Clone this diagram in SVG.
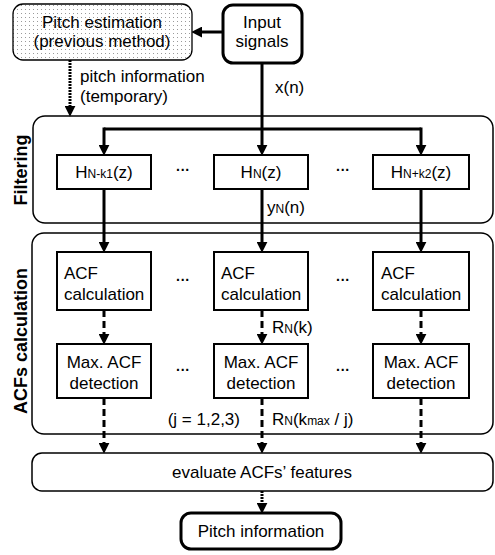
<svg xmlns="http://www.w3.org/2000/svg" width="495" height="555" viewBox="0 0 495 555">
<defs>
<pattern id="stip" width="4" height="4" patternUnits="userSpaceOnUse">
<rect width="4" height="4" fill="#fff"/>
<rect x="1" y="1" width="1" height="1" fill="#9a9a9a"/>
</pattern>
<marker id="ah" markerUnits="userSpaceOnUse" markerWidth="11" markerHeight="11" refX="2" refY="5" orient="auto" viewBox="0 0 10 10">
<path d="M0,0 L10,5 L0,10 z" fill="#000"/>
</marker>
<style>
text{font-family:"Liberation Sans",Arial,sans-serif;font-size:17px;fill:#000}
.c{text-anchor:middle}
.s{font-size:12px}
.lab{font-weight:bold;font-size:18px;text-anchor:middle}
.grp{fill:#fff;stroke:#000;stroke-width:1.5}
.box{fill:#fff;stroke:#000;stroke-width:2}
.tb{fill:#fff;stroke:#000;stroke-width:3}
.solid{stroke:#000;stroke-width:3;fill:none}
.dash{stroke:#000;stroke-width:3;fill:none;stroke-dasharray:7 4}
.dot{stroke:#000;stroke-width:3;fill:none;stroke-dasharray:2 1}
.dots{font-size:14px;text-anchor:middle;font-weight:bold}
</style>
</defs>

<g id="filtering-group">
<rect class="grp" x="33" y="116" width="460" height="107" rx="12"/>
<text class="lab" transform="translate(27,170) rotate(-90)">Filtering</text>
</g>
<g id="acfs-group">
<rect class="grp" x="32" y="233" width="461" height="201" rx="12"/>
<text class="lab" transform="translate(27,341) rotate(-90)">ACFs calculation</text>
</g>

<g id="connectors">
<line class="solid" x1="223" y1="32" x2="200" y2="32" marker-end="url(#ah)"/>
<line class="dot" x1="70" y1="60" x2="70" y2="108" marker-end="url(#ah)"/>
<line class="solid" x1="262" y1="63" x2="262" y2="147" marker-end="url(#ah)"/>
<line class="solid" x1="104" y1="129" x2="421" y2="129"/>
<line class="solid" x1="104" y1="127.5" x2="104" y2="147" marker-end="url(#ah)"/>
<line class="solid" x1="421" y1="127.5" x2="421" y2="147" marker-end="url(#ah)"/>
<line class="solid" x1="104" y1="189" x2="104" y2="244" marker-end="url(#ah)"/>
<line class="solid" x1="262" y1="189" x2="262" y2="244" marker-end="url(#ah)"/>
<line class="solid" x1="421" y1="189" x2="421" y2="244" marker-end="url(#ah)"/>
<line class="dash" x1="104" y1="310" x2="104" y2="336" marker-end="url(#ah)"/>
<line class="dash" x1="262" y1="310" x2="262" y2="336" marker-end="url(#ah)"/>
<line class="dash" x1="421" y1="310" x2="421" y2="336" marker-end="url(#ah)"/>
<line class="dash" x1="104" y1="398" x2="104" y2="445" marker-end="url(#ah)"/>
<line class="dash" x1="262" y1="398" x2="262" y2="445" marker-end="url(#ah)"/>
<line class="dash" x1="421" y1="398" x2="421" y2="445" marker-end="url(#ah)"/>
<line class="dot" x1="262" y1="491" x2="262" y2="505" marker-end="url(#ah)"/>
<text x="80" y="82">pitch information</text>
<text x="80" y="102">(temporary)</text>
<text x="275" y="93">x(n)</text>
<text x="267" y="213">y<tspan class="s">N</tspan>(n)</text>
<text x="272" y="333">R<tspan class="s">N</tspan>(k)</text>
<text x="240" y="425" text-anchor="end">(j = 1,2,3)</text>
<text x="272" y="425">R<tspan class="s">N</tspan>(k<tspan class="s">max</tspan> / j)</text>
</g>

<g id="pitch-estimation">
<rect x="13" y="4" width="179" height="56" rx="10" fill="url(#stip)" stroke="#000" stroke-width="1.3"/>
<text class="c" x="102" y="28">Pitch estimation</text>
<text class="c" x="102" y="47">(previous method)</text>
</g>
<g id="input-signals">
<rect class="tb" x="223" y="5" width="79" height="58" rx="10"/>
<text class="c" x="262" y="28">Input</text>
<text class="c" x="262" y="47">signals</text>
</g>

<g id="filter-1">
<rect class="box" x="57" y="155" width="94" height="34"/>
<text class="c" x="104" y="178">H<tspan class="s">N-k1</tspan>(z)</text>
</g>
<g id="filter-N">
<rect class="box" x="214" y="155" width="94" height="34"/>
<text class="c" x="261" y="178">H<tspan class="s">N</tspan>(z)</text>
</g>
<g id="filter-3">
<rect class="box" x="373" y="155" width="96" height="34"/>
<text class="c" x="421" y="178">H<tspan class="s">N+k2</tspan>(z)</text>
</g>

<g id="acf-1">
<rect class="box" x="57" y="252" width="94" height="58"/>
<text x="64" y="279">ACF</text>
<text x="64" y="300">calculation</text>
</g>
<g id="acf-N">
<rect class="box" x="214" y="252" width="94" height="58"/>
<text x="221" y="279">ACF</text>
<text x="221" y="300">calculation</text>
</g>
<g id="acf-3">
<rect class="box" x="373" y="252" width="96" height="58"/>
<text x="381" y="279">ACF</text>
<text x="381" y="300">calculation</text>
</g>

<g id="max-1">
<rect class="box" x="57" y="344" width="94" height="54"/>
<text class="c" x="104" y="368">Max. ACF</text>
<text class="c" x="104" y="389">detection</text>
</g>
<g id="max-N">
<rect class="box" x="214" y="344" width="94" height="54"/>
<text class="c" x="261" y="368">Max. ACF</text>
<text class="c" x="261" y="389">detection</text>
</g>
<g id="max-3">
<rect class="box" x="373" y="344" width="96" height="54"/>
<text class="c" x="421" y="368">Max. ACF</text>
<text class="c" x="421" y="389">detection</text>
</g>

<g id="ellipses">
<text class="dots" x="183" y="175">···</text>
<text class="dots" x="343" y="175">···</text>
<text class="dots" x="183" y="285">···</text>
<text class="dots" x="343" y="285">···</text>
<text class="dots" x="183" y="375">···</text>
<text class="dots" x="343" y="375">···</text>
</g>

<g id="evaluate">
<rect class="grp" x="32" y="453" width="461" height="38" rx="10"/>
<text class="c" x="262" y="478">evaluate ACFs’ features</text>
</g>
<g id="pitch-information">
<rect class="tb" x="181" y="513" width="160" height="36" rx="10"/>
<text class="c" x="261" y="537">Pitch information</text>
</g>
</svg>
